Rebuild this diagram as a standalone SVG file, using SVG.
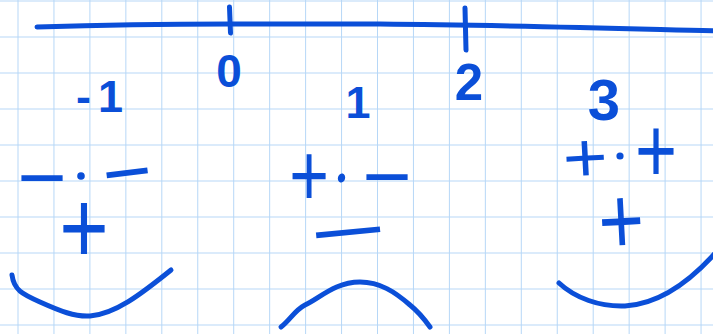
<svg xmlns="http://www.w3.org/2000/svg" width="713" height="334" viewBox="0 0 713 334">
<defs>
<pattern id="grid" x="17.5" y="0.5" width="35.95" height="36" patternUnits="userSpaceOnUse">
<path d="M0,0 V36 M0,0 H35.95" fill="none" stroke="#b6d7f7" stroke-width="2"/>
</pattern>
<style>
.ink{fill:none;stroke:#0b4fd8;stroke-width:5;stroke-linecap:round;stroke-linejoin:round}
.dot{fill:#0b4fd8}
.num{fill:#0b4fd8;font-family:"Liberation Sans",Arial,sans-serif;font-weight:bold}
.sgn{fill:#0b4fd8;font-family:"Liberation Sans",Arial,sans-serif;font-size:80px;text-anchor:middle}
</style>
</defs>
<rect width="713" height="334" fill="#ffffff"/>
<rect width="713" height="334" fill="url(#grid)"/>
<g id="axis">
<path class="ink" d="M37,27 C100,25 180,24 230,24 L380,24 C500,25 600,28 720,31"/>
<path class="ink" d="M229.5,7 L230.5,33"/>
<path class="ink" d="M465,8 L466,50"/>
<text class="num" x="229" y="87" font-size="46" text-anchor="middle">0</text>
<text class="num" x="469" y="100" font-size="51" text-anchor="middle">2</text>
</g>
<g id="left">
<text class="num" x="76" y="112" font-size="45"><tspan>-</tspan><tspan dx="7">1</tspan></text>
<text class="sgn" transform="translate(42,177) scale(1.06,1)" y="28">−</text>
<circle class="dot" cx="81" cy="176" r="3.8"/>
<text class="sgn" transform="translate(127,171.5) rotate(-7) scale(1.06,1)" y="28">−</text>
<text class="sgn" transform="translate(84,227) scale(1.06,1.3)" y="28">+</text>
<path class="ink" d="M12,275 C14,290 22,294 40,302 C60,311 75,317 90,316 C115,314 140,295 171,270"/>
</g>
<g id="middle">
<text class="num" x="358" y="118" font-size="45" text-anchor="middle">1</text>
<text class="sgn" transform="translate(309,175) scale(0.85,1.12)" y="28">+</text>
<ellipse class="dot" cx="341.5" cy="178" rx="3.6" ry="4.6" transform="rotate(15 341.5 178)"/>
<text class="sgn" transform="translate(387,175.5) scale(1.06,1)" y="28">−</text>
<text class="sgn" transform="translate(348,231) rotate(-5.5) scale(1.65,1)" y="28">−</text>
<path class="ink" d="M281,327 C290,320 295,310 305,305 C320,298 335,282 360,282 C380,282 395,292 410,305 C420,313 425,320 430,327"/>
</g>
<g id="right">
<text class="num" x="604" y="120" font-size="58" text-anchor="middle">3</text>
<text class="sgn" transform="translate(585,157) rotate(-3) scale(0.96,0.88)" y="28">+</text>
<circle class="dot" cx="620" cy="156" r="3.6"/>
<text class="sgn" transform="translate(656,150) scale(0.9,1.15)" y="28">+</text>
<text class="sgn" transform="translate(621,220) rotate(-3) scale(0.98,1.2)" y="28">+</text>
<path class="ink" d="M559,283 C575,298 600,307 625,306 C660,304 690,282 718,250"/>
</g>
</svg>
